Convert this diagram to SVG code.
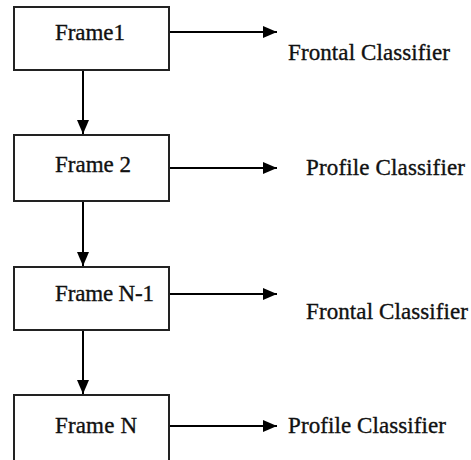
<svg xmlns="http://www.w3.org/2000/svg" width="471" height="460" viewBox="0 0 471 460">
<defs>
<marker id="ah" markerWidth="14" markerHeight="12" refX="14" refY="6" orient="auto" markerUnits="userSpaceOnUse">
<path d="M0,0 L14,6 L0,12 Z" fill="#000"/>
</marker>
</defs>
<style>
.box{fill:#fff;stroke:#222;stroke-width:2}
.lbl{font-family:"Liberation Serif","Times New Roman",serif;font-size:23px;fill:#111;stroke:#111;stroke-width:0.35}
.con{stroke:#000;stroke-width:2;fill:none}
</style>
<rect width="471" height="460" fill="#fff"/>
<g id="connectors">
<line class="con" x1="83" y1="71" x2="83" y2="134" marker-end="url(#ah)"/>
<line class="con" x1="83" y1="201" x2="83" y2="266" marker-end="url(#ah)"/>
<line class="con" x1="83" y1="330" x2="83" y2="394" marker-end="url(#ah)"/>
<line class="con" x1="169" y1="32" x2="277" y2="32" marker-end="url(#ah)"/>
<line class="con" x1="169" y1="168" x2="277" y2="168" marker-end="url(#ah)"/>
<line class="con" x1="169" y1="294" x2="277" y2="294" marker-end="url(#ah)"/>
<line class="con" x1="169" y1="426" x2="277" y2="426" marker-end="url(#ah)"/>
</g>
<g id="frame1"><rect class="box" x="14" y="7" width="155" height="63"/><text class="lbl" x="55" y="40" textLength="70">Frame1</text></g>
<g id="frame2"><rect class="box" x="14" y="135" width="155" height="66"/><text class="lbl" x="55" y="172" textLength="76">Frame 2</text></g>
<g id="frameN1"><rect class="box" x="14" y="267" width="155" height="63"/><text class="lbl" x="55" y="301" textLength="99">Frame N-1</text></g>
<g id="frameN"><rect class="box" x="14" y="395" width="155" height="67"/><text class="lbl" x="55" y="433" textLength="82">Frame N</text></g>
<g id="out1"><text class="lbl" x="288" y="60" textLength="162">Frontal Classifier</text></g>
<g id="out2"><text class="lbl" x="306" y="175" textLength="159">Profile Classifier</text></g>
<g id="out3"><text class="lbl" x="306" y="319" textLength="162">Frontal Classifier</text></g>
<g id="out4"><text class="lbl" x="288" y="433" textLength="158">Profile Classifier</text></g>
</svg>
